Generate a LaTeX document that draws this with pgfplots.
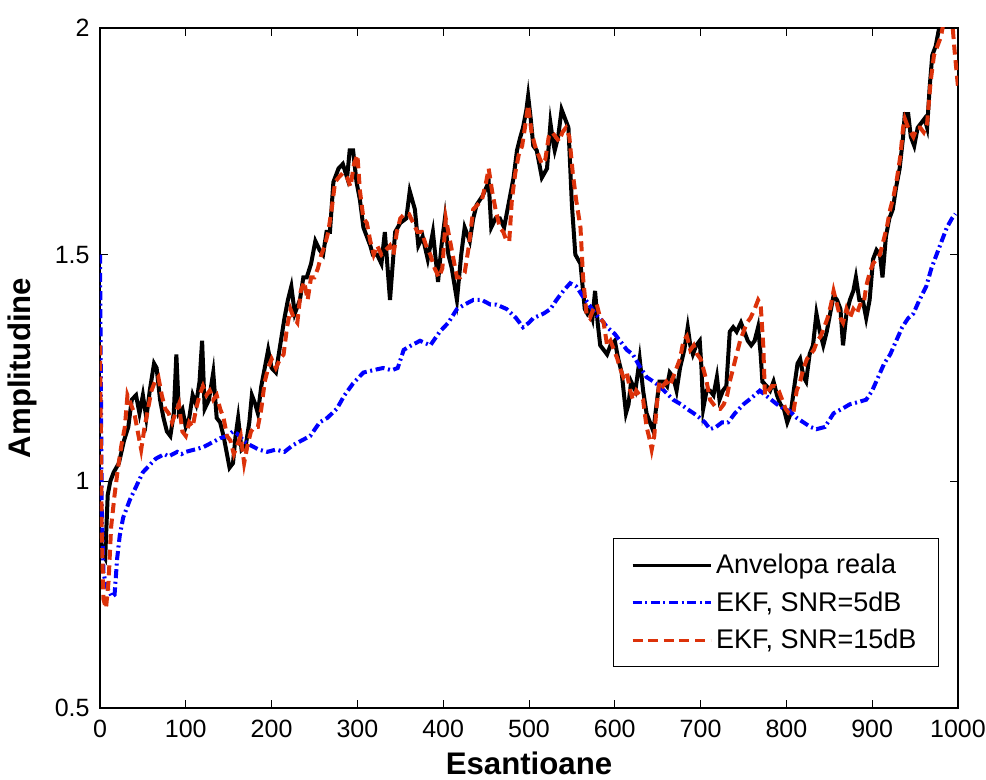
\documentclass[border=0pt]{standalone}
\usepackage{pgfplots}
\pgfplotsset{compat=1.18}
\usepackage{fontspec}
\setmainfont{Liberation Sans}
\definecolor{ekfred}{RGB}{220,50,10}
\definecolor{ekfblue}{RGB}{0,0,255}
\begin{document}
\begin{tikzpicture}
\begin{axis}[
  scale only axis, width=429pt, height=340pt,
  xmin=0, xmax=1000, ymin=0.5, ymax=2,
  xtick={0,100,...,1000}, ytick={0.5,1,1.5,2},
  tick align=inside, major tick length=4pt,
  tick style={black, line width=0.5pt},
  axis line style={line width=0.8pt},
  /pgf/number format/assume math mode=true,
  /pgf/number format/1000 sep={},
  ticklabel style={font=\fontsize{12.5}{15}\selectfont},
  xticklabel style={inner sep=0pt, anchor=north, yshift=-6pt},
  yticklabel style={inner sep=0pt, anchor=east, xshift=-5pt},
  xlabel={\textbf{Esantioane}},
  ylabel={\textbf{Amplitudine}},
  label style={font=\fontsize{15.6}{18}\selectfont},
  xlabel style={at={(axis description cs:0.5,0)}, anchor=north, inner sep=0pt, yshift=-21.5pt},
  ylabel style={at={(axis description cs:-0.0734,0.5)}, anchor=south, inner sep=0pt},
  legend style={at={(0.978,0.060)}, anchor=south east, draw=black, line width=0.6pt,
    font=\fontsize{13.5}{16}\selectfont, inner xsep=9pt, inner ysep=5.5pt, row sep=3.5pt,
    cells={anchor=west}},
  legend image code/.code={\draw[#1, line width=1.5pt] (0pt,0pt) -- (39pt,0pt);},
]
\addplot[black, line width=2pt] table {
0 0.88
3 0.84
6 0.83
9 0.97
12 1.00
16 1.02
22 1.04
28 1.09
33 1.12
37 1.18
42 1.19
46 1.15
50 1.19
54 1.14
58 1.20
63 1.26
66 1.25
70 1.18
74 1.14
78 1.11
82 1.10
86 1.15
89 1.28
92 1.15
96 1.16
100 1.12
104 1.14
108 1.19
112 1.17
116 1.22
119 1.31
122 1.16
127 1.18
132 1.24
136 1.14
140 1.13
144 1.10
148 1.06
151 1.03
155 1.04
158 1.10
161 1.14
165 1.07
170 1.08
174 1.13
177 1.19
181 1.17
184 1.15
188 1.21
192 1.25
196 1.29
200 1.25
205 1.24
210 1.30
215 1.36
219 1.40
223 1.43
227 1.37
233 1.40
237 1.45
241 1.45
246 1.48
251 1.53
256 1.51
260 1.50
264 1.55
268 1.55
272 1.66
278 1.69
283 1.70
288 1.67
291 1.73
295 1.73
299 1.66
303 1.62
307 1.56
311 1.54
315 1.52
318 1.50
323 1.50
328 1.48
332 1.55
338 1.40
344 1.55
350 1.57
357 1.58
361 1.64
367 1.60
371 1.52
376 1.54
382 1.49
388 1.55
394 1.44
398 1.52
402 1.58
406 1.50
410 1.47
416 1.40
421 1.50
425 1.56
431 1.53
435 1.58
439 1.61
446 1.63
453 1.66
456 1.56
461 1.58
466 1.58
471 1.56
476 1.61
482 1.67
486 1.73
490 1.76
493 1.78
497 1.82
499 1.85
502 1.80
505 1.74
509 1.73
512 1.70
515 1.67
518 1.68
521 1.69
525 1.79
528 1.75
530 1.73
534 1.76
538 1.82
542 1.80
546 1.78
550 1.61
554 1.50
557 1.49
560 1.48
565 1.38
568 1.37
571 1.38
574 1.36
577 1.42
580 1.35
583 1.30
587 1.29
591 1.28
595 1.30
600 1.31
604 1.27
608 1.24
613 1.15
616 1.17
619 1.22
624 1.20
629 1.27
633 1.20
637 1.15
641 1.13
645 1.11
648 1.16
652 1.22
657 1.22
661 1.21
664 1.24
668 1.23
672 1.20
676 1.25
681 1.29
685 1.34
688 1.30
691 1.28
695 1.30
699 1.31
701 1.25
703 1.16
707 1.20
711 1.20
715 1.19
719 1.23
722 1.18
726 1.20
730 1.21
734 1.33
738 1.34
742 1.33
747 1.35
751 1.33
755 1.31
759 1.30
763 1.31
767 1.34
770 1.28
772 1.22
777 1.21
781 1.20
785 1.22
789 1.19
793 1.17
797 1.16
801 1.13
805 1.15
810 1.22
813 1.26
816 1.27
820 1.23
823 1.22
827 1.28
831 1.30
835 1.37
839 1.33
843 1.30
847 1.33
851 1.37
855 1.41
859 1.40
863 1.38
866 1.30
870 1.37
874 1.40
878 1.42
881 1.45
885 1.40
889 1.40
893 1.36
897 1.40
901 1.49
905 1.51
909 1.50
912 1.45
916 1.54
920 1.58
924 1.60
928 1.65
932 1.69
936 1.76
938 1.81
942 1.81
945 1.76
949 1.74
953 1.78
957 1.79
961 1.80
964 1.78
967 1.87
970 1.94
974 1.96
978 2.00
982 2.04
990 2.08
1000 2.12
};
\addlegendentry{Anvelopa reala}
\addplot[ekfblue, line width=2pt, dash pattern=on 4.5pt off 1.8pt on 1pt off 1.8pt] table {
0 1.50
2 0.95
4 0.80
7 0.77
10 0.76
14 0.745
17 0.75
20 0.83
23 0.88
27 0.92
31 0.94
35 0.96
40 0.98
45 1.00
50 1.02
55 1.03
60 1.04
65 1.05
70 1.055
75 1.06
80 1.055
85 1.06
90 1.065
95 1.06
100 1.065
110 1.07
120 1.075
130 1.085
140 1.095
148 1.10
155 1.11
160 1.105
167 1.09
175 1.08
185 1.07
195 1.065
205 1.07
215 1.065
225 1.08
235 1.09
245 1.10
256 1.13
265 1.14
276 1.16
285 1.19
295 1.216
307 1.24
318 1.245
330 1.25
340 1.245
347 1.25
354 1.29
363 1.30
373 1.31
385 1.30
396 1.33
406 1.35
416 1.38
425 1.39
435 1.40
445 1.40
455 1.39
462 1.39
474 1.38
485 1.36
493 1.34
500 1.35
505 1.36
517 1.37
525 1.38
532 1.40
540 1.42
548 1.437
555 1.43
562 1.41
570 1.39
577 1.37
585 1.355
591 1.34
600 1.325
606 1.31
614 1.29
621 1.28
630 1.25
637 1.23
645 1.22
652 1.21
660 1.195
668 1.18
677 1.17
684 1.16
692 1.15
699 1.14
705 1.13
711 1.115
718 1.12
725 1.13
732 1.13
740 1.15
750 1.17
760 1.185
769 1.20
779 1.185
789 1.17
797 1.16
804 1.155
812 1.14
820 1.13
828 1.12
835 1.115
845 1.12
855 1.15
865 1.16
874 1.17
884 1.175
893 1.18
900 1.20
907 1.23
914 1.26
921 1.28
928 1.31
935 1.34
942 1.36
948 1.37
955 1.40
963 1.43
969 1.47
975 1.50
981 1.53
987 1.56
993 1.58
997 1.59
};
\addlegendentry{EKF, SNR=5dB}
\addplot[ekfred, line width=2pt, dash pattern=on 5pt off 2.8pt] table {
0 1.30
2 0.90
4 0.74
7 0.72
10 0.78
13 0.90
17 0.97
21 1.03
25 1.08
29 1.12
32 1.19
36 1.17
40 1.15
44 1.11
48 1.07
52 1.12
56 1.16
60 1.20
64 1.22
68 1.23
72 1.19
76 1.16
80 1.15
84 1.13
88 1.15
92 1.17
96 1.11
100 1.10
104 1.13
108 1.12
112 1.16
116 1.19
120 1.21
124 1.19
128 1.20
132 1.18
136 1.19
140 1.16
144 1.14
148 1.10
152 1.09
156 1.06
160 1.08
164 1.10
168 1.04
172 1.08
176 1.11
180 1.12
184 1.12
188 1.16
192 1.22
196 1.25
200 1.27
205 1.25
210 1.27
214 1.28
218 1.34
222 1.38
226 1.36
230 1.35
234 1.42
238 1.44
242 1.40
246 1.45
250 1.45
254 1.47
258 1.50
262 1.52
266 1.55
270 1.60
274 1.66
278 1.67
283 1.68
288 1.67
292 1.65
296 1.70
300 1.72
303 1.64
307 1.58
311 1.57
315 1.53
319 1.50
323 1.52
328 1.50
333 1.51
338 1.52
342 1.50
346 1.55
350 1.58
355 1.59
360 1.59
365 1.57
370 1.55
375 1.55
380 1.52
385 1.50
390 1.47
395 1.45
399 1.47
403 1.58
407 1.54
411 1.50
416 1.45
420 1.45
425 1.46
430 1.52
435 1.60
440 1.61
445 1.62
450 1.66
453 1.69
457 1.64
461 1.60
466 1.56
470 1.55
474 1.53
477 1.53
480 1.62
484 1.68
488 1.72
492 1.74
496 1.79
499 1.83
503 1.77
507 1.74
511 1.72
515 1.70
519 1.71
523 1.76
527 1.77
531 1.76
535 1.75
539 1.77
543 1.78
547 1.76
551 1.68
555 1.62
560 1.56
563 1.45
567 1.37
571 1.36
575 1.38
579 1.39
583 1.36
587 1.35
591 1.30
595 1.31
599 1.29
603 1.27
606 1.25
610 1.23
614 1.24
618 1.20
621 1.18
625 1.20
629 1.19
633 1.18
637 1.12
641 1.09
643 1.07
646 1.10
649 1.17
652 1.22
656 1.21
660 1.22
664 1.21
668 1.23
672 1.25
676 1.27
680 1.31
684 1.32
688 1.29
692 1.30
696 1.28
700 1.27
703 1.25
707 1.22
711 1.18
715 1.17
719 1.16
723 1.16
727 1.17
731 1.19
734 1.22
738 1.25
742 1.28
746 1.31
750 1.33
754 1.35
758 1.36
763 1.38
767 1.40
770 1.39
773 1.30
775 1.19
779 1.20
783 1.21
787 1.21
791 1.20
795 1.18
799 1.16
803 1.15
808 1.15
812 1.20
816 1.22
820 1.25
824 1.27
828 1.28
832 1.29
836 1.31
840 1.32
844 1.34
848 1.36
852 1.39
855 1.42
859 1.39
863 1.36
866 1.35
870 1.38
874 1.36
878 1.38
882 1.37
886 1.39
890 1.39
893 1.43
897 1.46
901 1.48
905 1.49
909 1.50
913 1.53
917 1.56
921 1.60
925 1.63
929 1.67
933 1.72
936 1.78
938 1.80
942 1.78
945 1.77
948 1.76
952 1.78
956 1.78
960 1.77
964 1.79
968 1.88
972 1.94
976 1.96
980 1.98
983 2.01
987 2.02
993 2.02
996 1.95
1000 1.87
};
\addlegendentry{EKF, SNR=15dB}
\end{axis}
\path[use as bounding box] (-50pt,-36pt) rectangle (443pt,354pt);
\end{tikzpicture}
\end{document}
